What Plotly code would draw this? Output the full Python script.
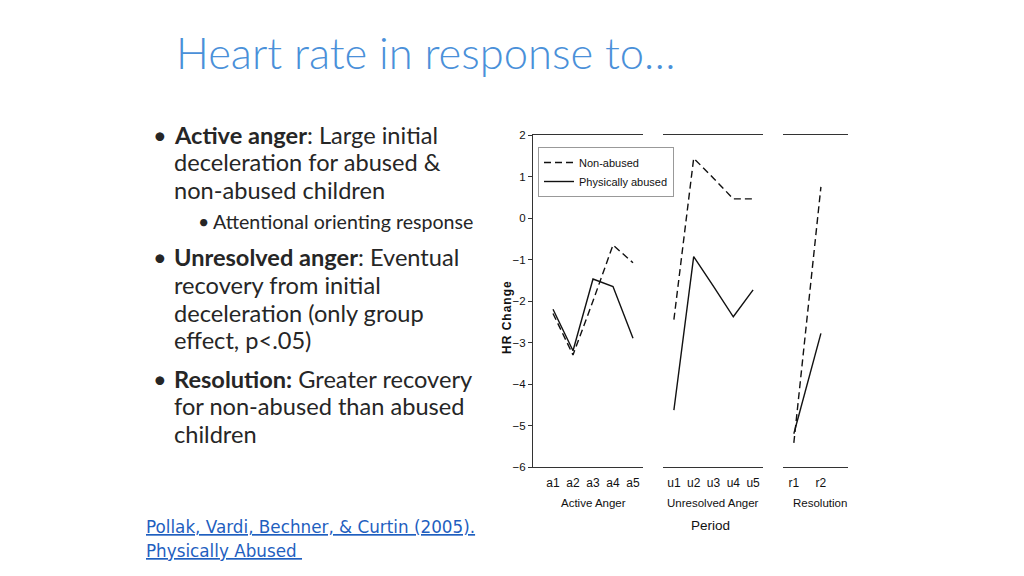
import plotly.graph_objects as go

W, H = 1024, 576
OFF = 8  # browser body margin

# ---- data ----
periods_active = ["a1", "a2", "a3", "a4", "a5"]
nonabused_active = [-2.3, -3.3, -2.0, -0.65, -1.08]
abused_active = [-2.2, -3.2, -1.47, -1.65, -2.9]

periods_unres = ["u1", "u2", "u3", "u4", "u5"]
nonabused_unres = [-2.45, 1.44, 0.96, 0.46, 0.46]
abused_unres = [-4.63, -0.93, -1.65, -2.38, -1.73]

periods_res = ["r1", "r2"]
nonabused_res = [-5.42, 0.75]
abused_res = [-5.2, -2.78]

group_titles = ["Active Anger", "Unresolved Anger", "Resolution"]
y_ticks = [2, 1, 0, -1, -2, -3, -4, -5, -6]

def px(x):
    return (x - OFF) / W

def py(y):
    return 1 - (y - OFF) / H

CHART_FONT = "Liberation Sans Narrow, Arial Narrow, Liberation Sans, Arial, sans-serif"
TEXT_FONT = "Lato, Carlito, Calibri, Open Sans, sans-serif"
INK = "#111111"

fig = go.Figure()

panels = [
    (periods_active, nonabused_active, abused_active, "x", "y"),
    (periods_unres, nonabused_unres, abused_unres, "x2", "y"),
    (periods_res, nonabused_res, abused_res, "x3", "y"),
]
for i, (cats, na, ab, xa, ya) in enumerate(panels):
    fig.add_trace(go.Scatter(x=cats, y=na, xaxis=xa, yaxis=ya, mode="lines",
                             line=dict(color=INK, width=1.4, dash="7px,4px"),
                             name="Non-abused", legendgroup="na", showlegend=(i == 0)))
    fig.add_trace(go.Scatter(x=cats, y=ab, xaxis=xa, yaxis=ya, mode="lines",
                             line=dict(color=INK, width=1.4),
                             name="Physically abused", legendgroup="ab", showlegend=(i == 0)))

xcommon = dict(type="category", showline=True, linecolor="#333333", linewidth=1.2,
               mirror=True, ticks="", showgrid=False, zeroline=False, anchor="y",
               automargin=False, ticklabelstandoff=4,
               tickfont=dict(family=CHART_FONT, size=12, color=INK), fixedrange=True)

fig.update_layout(
    width=W, height=H,
    margin=dict(l=0, r=0, t=0, b=0, autoexpand=False),
    paper_bgcolor="white", plot_bgcolor="white",
    xaxis=dict(domain=[px(533), px(643)], range=[-1, 4.5], **xcommon),
    xaxis2=dict(domain=[px(663), px(763)], range=[-0.55, 4.5], **xcommon),
    xaxis3=dict(domain=[px(783), px(848)], range=[-0.4, 2.0], **xcommon),
    yaxis=dict(domain=[py(467), py(135)], range=[-6, 2], anchor="x",
               tickvals=y_ticks, ticks="outside", ticklen=4, tickcolor="#333333",
               showline=True, linecolor="#333333", linewidth=1.2,
               showgrid=False, zeroline=False, automargin=False,
               tickfont=dict(family=CHART_FONT, size=11.5, color=INK), fixedrange=True),
    legend=dict(x=px(538), y=py(147), xanchor="left", yanchor="top",
                bgcolor="white", bordercolor="#999999", borderwidth=1,
                font=dict(family=CHART_FONT, size=11, color=INK),
                itemwidth=30, tracegroupgap=0),
    showlegend=True,
)

ann = []
def add(text, x, y, size, color, family, xanchor="left", **kw):
    fontkw = kw.pop("fontkw", {})
    ann.append(dict(text=text, x=px(x), y=py(y), xref="paper", yref="paper",
                    xanchor=xanchor, yanchor="middle", showarrow=False,
                    font=dict(family=family, size=size, color=color, **fontkw),
                    **kw))

# title
add("Heart rate in response to…", 174, 52, 43.5, "#4A90D9", TEXT_FONT, fontkw={"weight": 300})

# bullets
BODY = 23.6
bullet_lines = [
    (172, 135, "<b>Active anger</b>: Large initial", BODY, True),
    (172, 162, "deceleration for abused &amp;", BODY, False),
    (172, 190, "non-abused children", BODY, False),
    (211, 221, "Attentional orienting response", 19.6, True),
    (172, 257, "<b>Unresolved anger</b>: Eventual", BODY, True),
    (172, 285, "recovery from initial", BODY, False),
    (172, 313, "deceleration (only group", BODY, False),
    (172, 340, "effect, p&lt;.05)", BODY, False),
    (172, 379, "<b>Resolution:</b> Greater recovery", BODY, True),
    (172, 406, "for non-abused than abused", BODY, False),
    (172, 434, "children", BODY, False),
]
for x, y, t, s, has_bullet in bullet_lines:
    add(t, x, y, s, "#262626", TEXT_FONT)
    if has_bullet:
        bx = 160 if s == BODY else 203
        add("•", bx, y, s, "#262626", TEXT_FONT, xanchor="center")

# citation
CIT = "DejaVu Sans, Verdana, sans-serif"
add("<u>Pollak, Vardi, Bechner, &amp; Curtin (2005).</u>", 144, 527, 16.8, "#1F5FBF", CIT)
add("<u>Physically Abused </u>", 144, 551, 16.8, "#1F5FBF", CIT)

# chart labels
hr = "\u200a".join("HR Change")
add("<b>" + hr + "</b>", 507, 318, 12, INK, "Liberation Sans, Arial, sans-serif",
    xanchor="center", textangle=-90)
for cx, t in zip([593, 713, 820], group_titles):
    add(t, cx, 503, 11.5, INK, CHART_FONT, xanchor="center")
add("Period", 710, 525, 13.5, INK, CHART_FONT, xanchor="center")

fig.update_layout(annotations=ann)
fig.write_html("out.html")
